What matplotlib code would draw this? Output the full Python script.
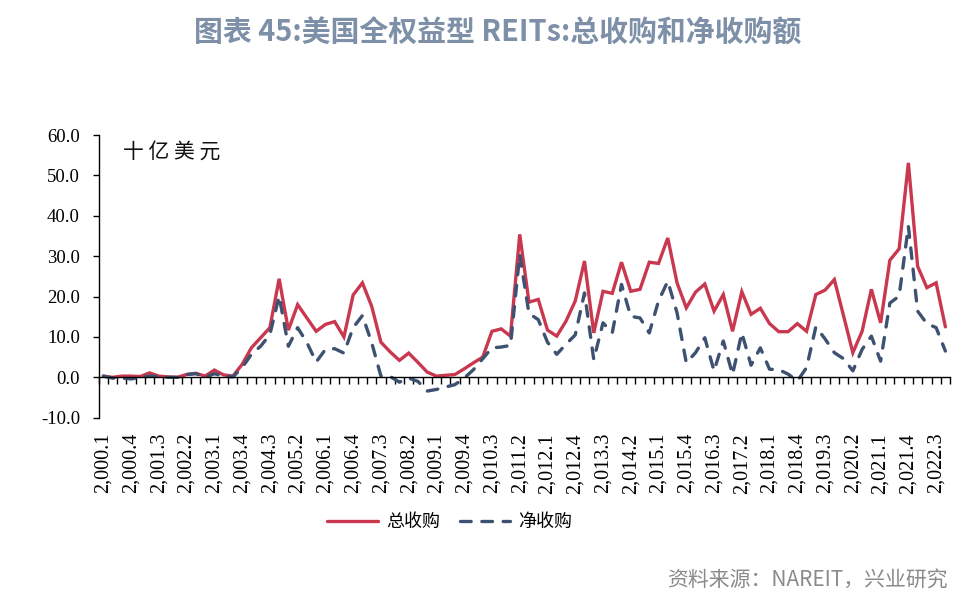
import matplotlib
matplotlib.use("Agg")
import matplotlib.pyplot as plt
import numpy as np

# ---------------- data ----------------
years = list(range(2000, 2023))
quarters = [f"{y}.{q}" for y in years for q in range(1, 5)]  # 2000.1 ... 2022.4
tick_labels = [f"{y:,}.{q}" for y in years for q in range(1, 5)]

gross = [0.3, 0.0, 0.3, 0.3, 0.2, 1.1, 0.3, 0.1, 0.0, 0.7,
         1.0, 0.3, 1.8, 0.6, 0.3, 3.2, 7.3, 9.8, 12.3, 24.4,
         11.7, 18.0, 14.7, 11.4, 13.1, 13.8, 10.0, 20.4, 23.4, 17.6,
         8.7, 6.3, 4.2, 6.0, 3.7, 1.3, 0.3, 0.5, 0.7, 2.1,
         3.6, 5.0, 11.4, 12.0, 10.2, 35.4, 18.6, 19.3, 11.7, 10.2,
         13.9, 18.9, 28.8, 11.0, 21.3, 20.8, 28.5, 21.3, 21.8, 28.5,
         28.2, 34.5, 23.4, 17.2, 21.1, 23.1, 16.4, 20.5, 11.4, 21.2,
         15.6, 17.1, 13.3, 11.3, 11.3, 13.3, 11.4, 20.5, 21.6, 24.2,
         15.2, 6.1, 11.4, 21.8, 13.5, 29.0, 31.8, 53.1, 27.5, 22.2,
         23.4, 12.5]

net = [0.3, -0.2, -0.2, -0.4, 0.0, 0.3, 0.2, 0.0, 0.0, 0.7,
       0.9, 0.0, 0.9, 0.3, 0.1, 2.4, 5.7, 7.7, 10.6, 20.1,
       7.7, 12.3, 8.6, 3.8, 6.9, 7.1, 6.0, 12.3, 15.3, 8.6,
       0.3, 0.2, -1.2, -0.2, -1.0, -3.4, -3.0, -2.4, -1.8, -0.2,
       1.9, 4.6, 7.3, 7.5, 7.9, 30.4, 15.8, 14.3, 8.7, 5.7,
       8.2, 10.5, 20.9, 4.4, 13.5, 11.0, 23.0, 15.1, 14.7, 11.0,
       18.9, 23.8, 16.0, 3.6, 6.1, 9.8, 1.6, 9.0, 0.7, 11.0,
       3.0, 7.3, 2.0, 1.9, 0.8, -0.9, 2.4, 12.5, 9.5, 6.1,
       4.6, 1.6, 6.9, 10.2, 4.0, 18.4, 20.1, 37.4, 16.4, 13.3,
       12.3, 6.5]

series_names = ["总收购", "净收购"]
y_ticks = [-10, 0, 10, 20, 30, 40, 50, 60]

# ---------------- style ----------------
RED = "#C9384F"
NAVY = "#3D5171"
TITLE_C = "#7D90A8"
SRC_C = "#8A8A8A"
SERIF = ["Liberation Serif", "DejaVu Serif"]
CJK = ["Noto Sans CJK SC", "DejaVu Sans"]

fig = plt.figure(figsize=(9.8, 6.06), dpi=100)
ax = fig.add_axes([0.1007, 0.3107, 0.9694 - 0.1007, 0.7772 - 0.3107])

x = np.arange(len(quarters))
l1, = ax.plot(x, gross, color=RED, lw=2.4, solid_capstyle="round",
              solid_joinstyle="miter", label=series_names[0])
l2, = ax.plot(x, net, color=NAVY, lw=2.4, dash_capstyle="round",
              linestyle=(0, (3.2, 3.2)), label=series_names[1])

ax.set_xlim(-0.5, len(quarters) - 0.5)
ax.set_ylim(-10, 60)

# spines
for s in ("top", "right"):
    ax.spines[s].set_visible(False)
ax.spines["bottom"].set_position(("data", 0))
ax.spines["bottom"].set_linewidth(1.0)
ax.spines["left"].set_linewidth(1.0)

# y axis
ax.set_yticks(y_ticks)
ax.set_yticklabels([f"{v:.1f}" for v in y_ticks], fontfamily=SERIF, fontsize=13.5)
ax.tick_params(axis="y", direction="out", length=4.5, width=1.0, pad=9)

# x axis: minor ticks at category boundaries, labels every 3 quarters
ax.set_xticks(np.arange(-0.5, len(quarters), 1.0), minor=True)
major_idx = list(range(0, len(quarters), 3))
ax.set_xticks(major_idx)
ax.set_xticklabels([tick_labels[i] for i in major_idx], rotation=90,
                   fontfamily=SERIF, fontsize=14.5)
ax.tick_params(axis="x", which="major", length=0, pad=40)
ax.tick_params(axis="x", which="minor", direction="out", length=4.8, width=1.0)

# unit label
unit = "十 亿 美 元"
fig.text(0.1255, 0.749, unit, fontfamily=CJK, fontsize=15, ha="left",
         va="center", color="#111111")

# legend
leg = fig.legend(handles=[l1, l2], labels=series_names, loc="center",
                 bbox_to_anchor=(0.459, 1 - 522 / 606), ncol=2, frameon=False,
                 prop={"family": CJK, "size": 13}, handlelength=2.8,
                 handletextpad=0.45, columnspacing=1.1)

# title
fig.text(0.508, 1 - 33 / 606, "图表 45:美国全权益型 REITs:总收购和净收购额",
         fontfamily=CJK, fontsize=20.8, fontweight="bold", color=TITLE_C,
         ha="center", va="center")

# source
fig.text(0.967, 1 - 580 / 606, "资料来源：NAREIT，兴业研究", fontfamily=CJK,
         fontsize=15, color=SRC_C, ha="right", va="center")

fig.savefig("out.png", dpi=100)
